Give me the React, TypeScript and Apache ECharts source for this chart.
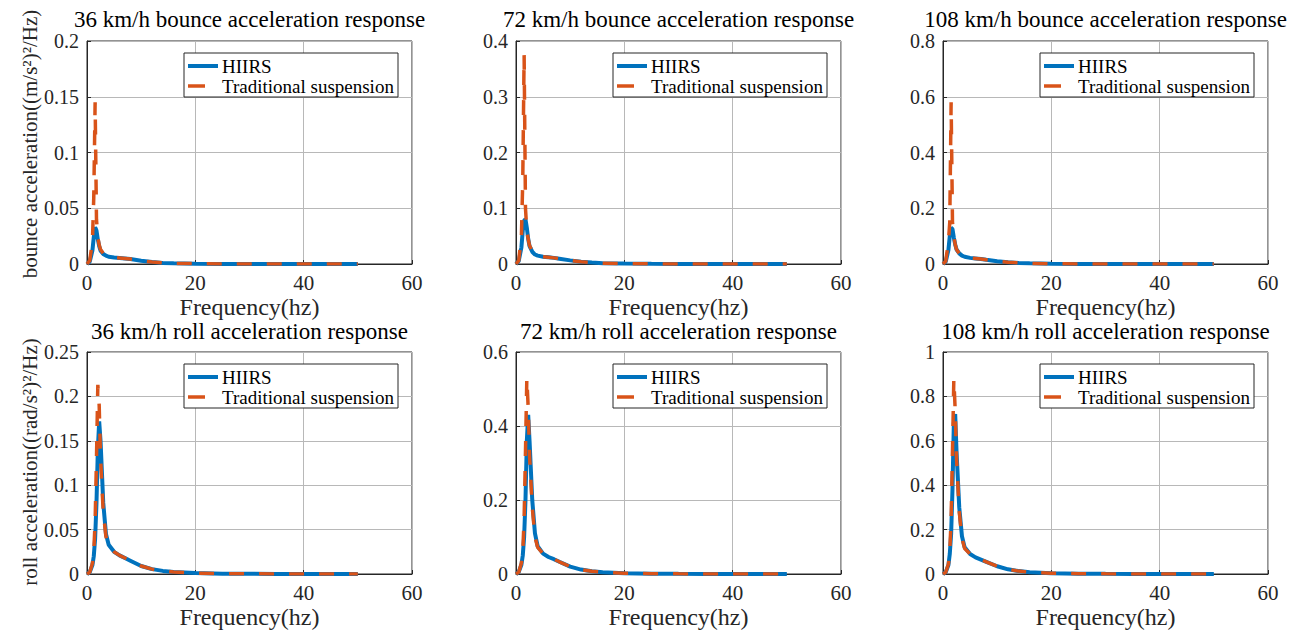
import React, { useEffect, useRef } from "react";
import * as echarts from "echarts";

const freq = [0, 0.5, 1, 1.25, 1.5, 1.75, 2, 2.25, 2.5, 3, 3.5, 4, 5, 6, 7, 8, 10, 12, 14, 16, 20, 25, 30, 35, 40, 45, 50];

const bounce36H = [0, 0.002, 0.012, 0.024, 0.033, 0.03, 0.022, 0.016, 0.012, 0.009, 0.0075, 0.0065, 0.0058, 0.0054, 0.005, 0.0044, 0.003, 0.0017, 0.001, 0.0006, 0.0003, 0.0001, 0.00005, 0, 0, 0, 0];
const bounce36T = [0, 0.003, 0.02, 0.06, 0.145, 0.04, 0.024, 0.017, 0.013, 0.0095, 0.0077, 0.0066, 0.0058, 0.0054, 0.005, 0.0044, 0.003, 0.0017, 0.001, 0.0006, 0.0003, 0.0001, 0.00005, 0, 0, 0, 0];
const bounce72H = [0, 0.005, 0.03, 0.06, 0.078, 0.08, 0.065, 0.045, 0.032, 0.022, 0.017, 0.015, 0.013, 0.012, 0.011, 0.0095, 0.0065, 0.004, 0.0025, 0.0015, 0.0007, 0.0003, 0.0001, 0, 0, 0, 0];
const bounce72T = [0, 0.006, 0.05, 0.15, 0.375, 0.1, 0.06, 0.045, 0.033, 0.023, 0.0175, 0.0152, 0.013, 0.012, 0.011, 0.0095, 0.0065, 0.004, 0.0025, 0.0015, 0.0007, 0.0003, 0.0001, 0, 0, 0, 0];
const bounce108H = [0, 0.008, 0.05, 0.1, 0.13, 0.125, 0.095, 0.07, 0.052, 0.038, 0.03, 0.026, 0.022, 0.02, 0.018, 0.015, 0.01, 0.006, 0.0038, 0.0024, 0.001, 0.0004, 0.0002, 0, 0, 0, 0];
const bounce108T = [0, 0.01, 0.08, 0.15, 0.58, 0.15, 0.1, 0.07, 0.052, 0.038, 0.03, 0.026, 0.022, 0.02, 0.018, 0.015, 0.01, 0.006, 0.0038, 0.0024, 0.001, 0.0004, 0.0002, 0, 0, 0, 0];
const roll36H = [0, 0.002, 0.01, 0.02, 0.04, 0.08, 0.14, 0.172, 0.15, 0.08, 0.045, 0.033, 0.025, 0.021, 0.018, 0.015, 0.009, 0.0055, 0.0035, 0.0022, 0.001, 0.0004, 0.0002, 0.0001, 0, 0, 0];
const roll36T = [0, 0.002, 0.012, 0.025, 0.06, 0.13, 0.213, 0.19, 0.13, 0.07, 0.042, 0.032, 0.025, 0.021, 0.018, 0.015, 0.009, 0.0055, 0.0035, 0.0022, 0.001, 0.0004, 0.0002, 0.0001, 0, 0, 0];
const roll72H = [0, 0.005, 0.025, 0.05, 0.1, 0.2, 0.36, 0.43, 0.36, 0.2, 0.11, 0.075, 0.055, 0.046, 0.04, 0.033, 0.02, 0.012, 0.0075, 0.0048, 0.002, 0.0008, 0.0004, 0.0002, 0, 0, 0];
const roll72T = [0, 0.005, 0.03, 0.06, 0.15, 0.33, 0.53, 0.45, 0.32, 0.18, 0.1, 0.072, 0.055, 0.046, 0.04, 0.033, 0.02, 0.012, 0.0075, 0.0048, 0.002, 0.0008, 0.0004, 0.0002, 0, 0, 0];
const roll108H = [0, 0.008, 0.04, 0.09, 0.18, 0.38, 0.68, 0.72, 0.55, 0.3, 0.17, 0.12, 0.09, 0.075, 0.065, 0.055, 0.035, 0.021, 0.013, 0.008, 0.0035, 0.0014, 0.0007, 0.0003, 0, 0, 0];
const roll108T = [0, 0.008, 0.045, 0.1, 0.25, 0.55, 0.88, 0.74, 0.52, 0.28, 0.16, 0.115, 0.09, 0.075, 0.065, 0.055, 0.035, 0.021, 0.013, 0.008, 0.0035, 0.0014, 0.0007, 0.0003, 0, 0, 0];

const titles = [
  "36 km/h bounce acceleration response",
  "72 km/h bounce acceleration response",
  "108 km/h bounce acceleration response",
  "36 km/h roll acceleration response",
  "72 km/h roll acceleration response",
  "108 km/h roll acceleration response",
];
const yMax = [0.2, 0.4, 0.8, 0.25, 0.6, 1];
const yInterval = [0.05, 0.1, 0.2, 0.05, 0.2, 0.2];
const hiirsData = [bounce36H, bounce72H, bounce108H, roll36H, roll72H, roll108H];
const tradData = [bounce36T, bounce72T, bounce108T, roll36T, roll72T, roll108T];
const yNames = ["bounce acceleration((m/s²)²/Hz)", "roll acceleration((rad/s²)²/Hz)"];
const xName = "Frequency(hz)";
const seriesNames = ["HIIRS", "Traditional suspension"];

const FONT = "Liberation Serif";
const BLUE = "#0072BD";
const ORANGE = "#D95319";

export default function App() {
  const ref = useRef<HTMLDivElement>(null);
  useEffect(() => {
    if (!ref.current) return;
    const chart = echarts.init(ref.current, null, { renderer: "svg" });
    const lefts = [87, 516, 943];
    const tops = [41, 352];
    const W = 325;
    const H = 223;
    const grids: any[] = [];
    const xAxes: any[] = [];
    const yAxes: any[] = [];
    const series: any[] = [];
    const graphics: any[] = [];
    for (let i = 0; i < 6; i++) {
      const r = Math.floor(i / 3);
      const c = i % 3;
      const left = lefts[c];
      const top = tops[r];
      grids.push({
        left, top, width: W, height: H,
        show: true, borderColor: "#262626", borderWidth: 1, backgroundColor: "#fff",
      });
      xAxes.push({
        type: "value", gridIndex: i, min: 0, max: 60, interval: 20,
        name: xName, nameLocation: "middle", nameGap: 31,
        nameTextStyle: { fontFamily: FONT, fontSize: 24, color: "#262626" },
        axisLine: { show: true, lineStyle: { color: "#262626" } },
        axisTick: { show: true, inside: true, length: 4, lineStyle: { color: "#262626" } },
        axisLabel: { fontFamily: FONT, fontSize: 21, color: "#262626", margin: 8 },
        splitLine: { show: true, lineStyle: { color: "#b8b8b8", width: 1 } },
      });
      yAxes.push({
        type: "value", gridIndex: i, min: 0, max: yMax[i], interval: yInterval[i],
        axisLine: { show: true, lineStyle: { color: "#262626" } },
        axisTick: { show: true, inside: true, length: 4, lineStyle: { color: "#262626" } },
        axisLabel: { fontFamily: FONT, fontSize: 20, color: "#262626", margin: 8 },
        splitLine: { show: true, lineStyle: { color: "#b8b8b8", width: 1 } },
      });
      series.push({
        name: seriesNames[0], type: "line", xAxisIndex: i, yAxisIndex: i,
        data: freq.map((f, k) => [f, hiirsData[i][k]]),
        showSymbol: false, symbol: "none",
        lineStyle: { color: BLUE, width: 4 }, itemStyle: { color: BLUE },
        z: 2,
      });
      series.push({
        name: seriesNames[1], type: "line", xAxisIndex: i, yAxisIndex: i,
        data: freq.map((f, k) => [f, tradData[i][k]]),
        showSymbol: false, symbol: "none",
        lineStyle: { color: ORANGE, width: 3.5, type: [15, 15] }, itemStyle: { color: ORANGE },
        z: 3,
      });
      const lx = left + 97;
      const ly = top + 12;
      graphics.push({
        type: "group", z: 100,
        children: [
          { type: "rect", shape: { x: lx, y: ly, width: 214, height: 44 }, style: { fill: "#fff", stroke: "#262626", lineWidth: 1 }, z: 100 },
          { type: "line", shape: { x1: lx + 4, y1: ly + 13, x2: lx + 34, y2: ly + 13 }, style: { stroke: BLUE, lineWidth: 4 }, z: 101 },
          { type: "line", shape: { x1: lx + 4, y1: ly + 33, x2: lx + 21, y2: ly + 33 }, style: { stroke: ORANGE, lineWidth: 3.5 }, z: 101 },
          { type: "text", x: lx + 38, y: ly + 13, style: { text: seriesNames[0], textVerticalAlign: "middle", font: `19px ${FONT}`, fill: "#000" }, z: 101 },
          { type: "text", x: lx + 38, y: ly + 33, style: { text: seriesNames[1], textVerticalAlign: "middle", font: `19px ${FONT}`, fill: "#000" }, z: 101 },
        ],
      });
      graphics.push({
        type: "text", x: left + W / 2, y: r === 0 ? 19 : 331,
        style: { text: titles[i], textAlign: "center", textVerticalAlign: "middle", font: `23px ${FONT}`, fill: "#000" },
      });
    }
    graphics.push({
      type: "text", x: 30, y: 144, rotation: Math.PI / 2,
      style: { text: yNames[0], textAlign: "center", textVerticalAlign: "middle", font: `21px ${FONT}`, fill: "#262626" },
    });
    graphics.push({
      type: "text", x: 30, y: 462, rotation: Math.PI / 2,
      style: { text: yNames[1], textAlign: "center", textVerticalAlign: "middle", font: `21px ${FONT}`, fill: "#262626" },
    });
    chart.setOption({
      animation: false,
      backgroundColor: "#fff",
      grid: grids,
      xAxis: xAxes,
      yAxis: yAxes,
      series,
      graphic: graphics,
    });
    return () => chart.dispose();
  }, []);
  return <div ref={ref} style={{ position: "fixed", left: 0, top: 0, width: 1299, height: 630 }} />;
}
